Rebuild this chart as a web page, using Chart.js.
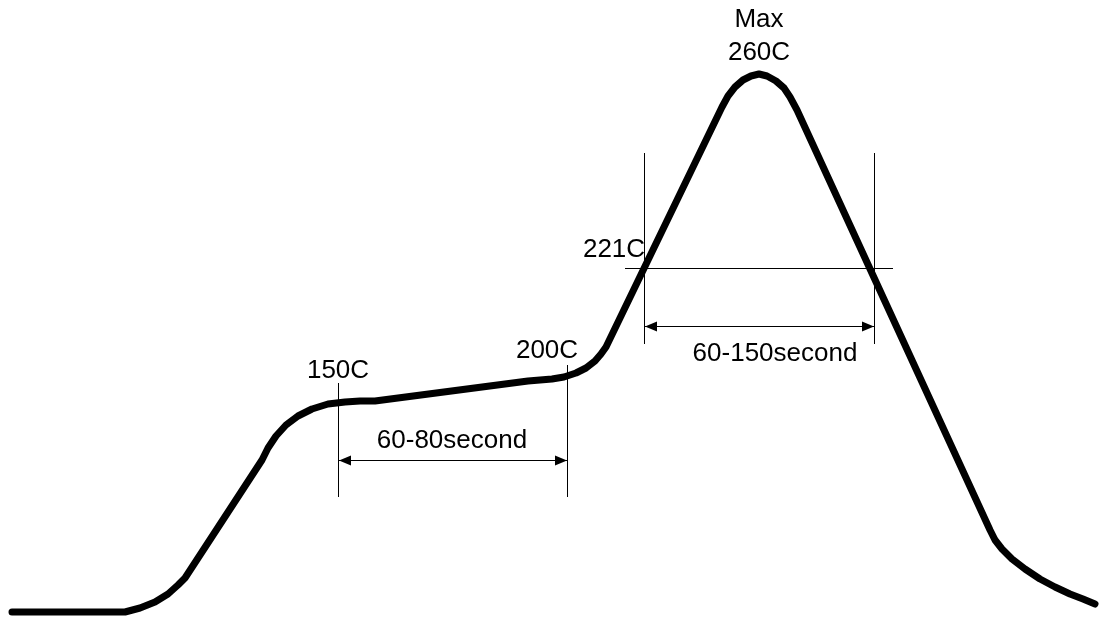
<!DOCTYPE html>
<html>
<head>
<meta charset="utf-8">
<style>
  html, body { margin: 0; padding: 0; background: #fff; }
  #wrap { width: 1099px; height: 617px; }
</style>
<script src="https://cdn.jsdelivr.net/npm/chart.js@4/dist/chart.umd.min.js"></script>
</head>
<body>
<div id="wrap"><canvas id="profile"></canvas></div>
<script>
// profile curve: time (x) and height on the drawing (y, up)
const times = [12, 125, 140, 155, 168, 178, 185, 262, 268, 276, 286, 298, 312, 328, 345, 360, 375, 528, 540, 552, 564, 576, 586, 595, 601, 606,
  722, 728, 735, 743, 751, 759, 767, 776, 784, 790, 797, 990, 995, 1002, 1012, 1025, 1040, 1055, 1070, 1083, 1095];
const heights = [5, 5, 9, 15, 23, 32, 39, 157, 169, 181, 192, 201, 208, 213, 215, 216, 216, 236, 237, 238, 240, 244, 249, 256, 263, 270,
  510, 521, 530, 537, 541, 543, 541, 536, 529, 520, 507, 87, 77, 68, 58, 48, 38, 30, 23, 18, 13];

// guide lines [x1, y1, x2, y2]
const guides = [
  [338.5, 234, 338.5, 120],
  [567.5, 252, 567.5, 120],
  [644.5, 464, 644.5, 273],
  [874.5, 464, 874.5, 273],
  [625, 348.5, 893, 348.5]
];
// span arrows [x1, x2, y]
const spans = [[339, 567, 156.5], [645, 874, 290.5]];
// labels [text, x, y(baseline)]
const labels = [
  ['Max', 759, 590],
  ['260C', 759, 557],
  ['150C', 338, 239],
  ['200C', 547, 259],
  ['221C', 614, 360],
  ['60-80second', 452, 169],
  ['60-150second', 775, 256]
];

const datasets = [{
  data: times.map((t, i) => ({ x: t, y: heights[i] })),
  borderColor: '#000',
  borderWidth: 7,
  borderCapStyle: 'round',
  borderJoinStyle: 'round',
  tension: 0,
  pointRadius: 0
}];
guides.forEach(g => datasets.push({
  data: [{ x: g[0], y: g[1] }, { x: g[2], y: g[3] }],
  borderColor: '#000',
  borderWidth: 1,
  pointRadius: 0,
  tension: 0
}));

const annotate = {
  id: 'annotate',
  afterDatasetsDraw(chart) {
    const ctx = chart.ctx;
    const xs = chart.scales.x, ys = chart.scales.y;
    ctx.save();
    ctx.strokeStyle = '#000';
    ctx.fillStyle = '#000';
    ctx.lineWidth = 1;
    spans.forEach(s => {
      const a = xs.getPixelForValue(s[0]), b = xs.getPixelForValue(s[1]), y = ys.getPixelForValue(s[2]);
      ctx.beginPath();
      ctx.moveTo(a, y); ctx.lineTo(b, y);
      ctx.stroke();
      ctx.beginPath();
      ctx.moveTo(a, y); ctx.lineTo(a + 12, y - 5); ctx.lineTo(a + 12, y + 5); ctx.closePath();
      ctx.moveTo(b, y); ctx.lineTo(b - 12, y - 5); ctx.lineTo(b - 12, y + 5); ctx.closePath();
      ctx.fill();
    });
    ctx.font = '26px "Liberation Sans", Arial, sans-serif';
    ctx.textAlign = 'center';
    ctx.textBaseline = 'alphabetic';
    labels.forEach(l => {
      ctx.fillText(l[0], xs.getPixelForValue(l[1]), ys.getPixelForValue(l[2]));
    });
    ctx.restore();
  }
};

new Chart(document.getElementById('profile'), {
  type: 'line',
  data: { datasets: datasets },
  options: {
    responsive: true,
    maintainAspectRatio: false,
    animation: false,
    layout: { padding: 0 },
    plugins: { legend: { display: false }, tooltip: { enabled: false } },
    scales: {
      x: { type: 'linear', min: 0, max: 1099, display: false },
      y: { type: 'linear', min: 0, max: 617, display: false }
    }
  },
  plugins: [annotate]
});
</script>
</body>
</html>
